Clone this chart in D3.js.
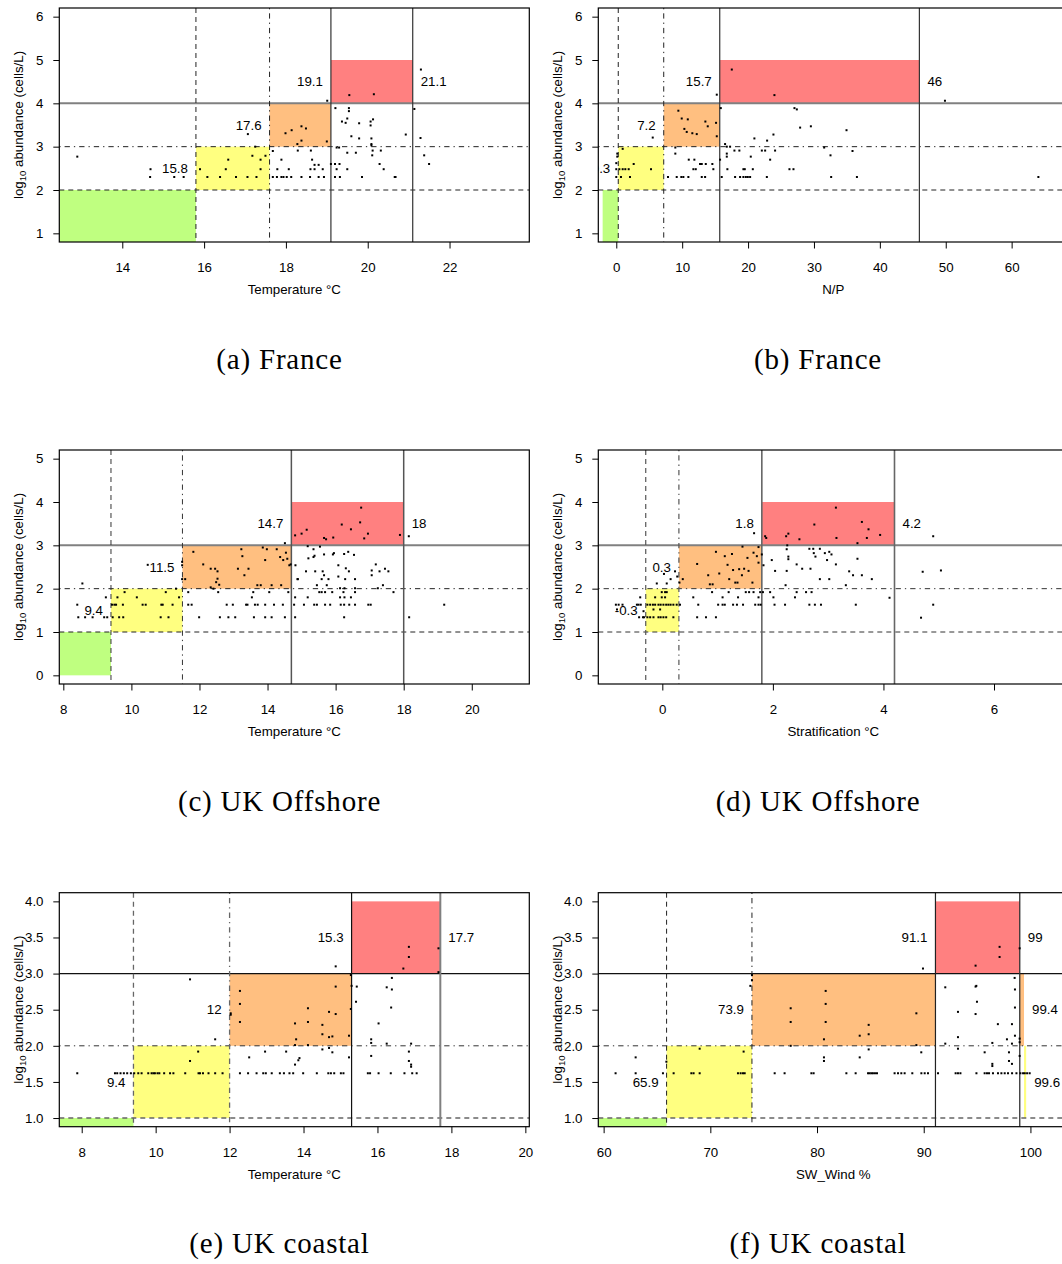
<!DOCTYPE html>
<html><head><meta charset="utf-8">
<script src="https://cdn.jsdelivr.net/npm/d3@7"></script>
<style>body{margin:0;background:#fff}svg{display:block}</style>
</head><body>
<svg id="chart" width="1062" height="1264"></svg>
<script>
// ---------------- DATA ----------------
const captions = ["(a) France","(b) France","(c) UK Offshore","(d) UK Offshore","(e) UK coastal","(f) UK coastal"];
const xTitles = ["Temperature °C","N/P","Temperature °C","Stratification °C","Temperature °C","SW_Wind %"];

const aXTicks=[14,16,18,20,22], aYTicks=[1,2,3,4,5,6];
const bXTicks=[0,10,20,30,40,50,60], bYTicks=[1,2,3,4,5,6];
const cXTicks=[8,10,12,14,16,18,20], cYTicks=[0,1,2,3,4,5];
const dXTicks=[0,2,4,6], dYTicks=[0,1,2,3,4,5];
const eXTicks=[8,10,12,14,16,18,20], eYTicks=[1,1.5,2,2.5,3,3.5,4];
const fXTicks=[60,70,80,90,100], fYTicks=[1,1.5,2,2.5,3,3.5,4];

// vertical thresholds (dashed, dot-dash, solid, solid), horizontal levels (dashed, dot-dash, solid)
const aCuts=[15.8,17.6,19.1,21.1], aLevels=[2,3,4];
const bCuts=[0.3,7.2,15.7,46], bLevels=[2,3,4];
const cCuts=[9.4,11.5,14.7,18], cLevels=[1,2,3];
const dCuts=[-0.3,0.3,1.8,4.2], dLevels=[1,2,3];
const eCuts=[9.4,12,15.3,17.7], eLevels=[1,2,3];
const fCuts=[65.9,73.9,91.1,99], fLevels=[1,2,3];

// bands: [x0, x1, y0, y1, level] level 0 green,1 yellow,2 orange,3 red
const aBands=[[12.46,15.8,0,2,0],[15.8,17.6,2,3,1],[17.6,19.1,3,4,2],[19.1,21.1,4,5,3]];
const bBands=[[-2.07,0.3,0,2,0],[0.3,7.2,2,3,1],[7.2,15.7,3,4,2],[15.7,46,4,5,3]];
const cBands=[[7.9,9.4,0,1,0],[9.4,11.5,1,2,1],[11.5,14.7,2,3,2],[14.7,18,3,4,3]];
const dBands=[[-0.3,0.3,1,2,1],[0.3,1.8,2,3,2],[1.8,4.2,3,4,3]];
const eBands=[[7.394,9.4,0,1,0],[9.4,12,1,2,1],[12,15.3,2,3,2],[15.3,17.7,3,4,3]];
const fBands=[[59.5,65.9,0,1,0],[65.9,73.9,1,2,1],[73.9,91.1,2,3,2],[91.1,99,3,4,3],[99,99.4,2,3,2],[99.4,99.6,1,2,1]];

// threshold labels: [text, x, y, side]
const aLabels=[["15.8",15.8,2.5,"L"],["17.6",17.6,3.5,"L"],["19.1",19.1,4.5,"L"],["21.1",21.1,4.5,"R"]];
const bLabels=[["0.3",0.3,2.5,"L"],["7.2",7.2,3.5,"L"],["15.7",15.7,4.5,"L"],["46",46,4.5,"R"]];
const cLabels=[["9.4",9.4,1.5,"L"],["11.5",11.5,2.5,"L"],["14.7",14.7,3.5,"L"],["18",18,3.5,"R"]];
const dLabels=[["-0.3",-0.3,1.5,"L"],["0.3",0.3,2.5,"L"],["1.8",1.8,3.5,"L"],["4.2",4.2,3.5,"R"]];
const eLabels=[["9.4",9.4,1.5,"L"],["12",12,2.5,"L"],["15.3",15.3,3.5,"L"],["17.7",17.7,3.5,"R"]];
const fLabels=[["65.9",65.9,1.5,"L"],["73.9",73.9,2.5,"L"],["91.1",91.1,3.5,"L"],["99",99,3.5,"R"],["99.4",99.4,2.5,"R"],["99.6",99.6,1.5,"R"]];

// observations [x, log10 abundance]
const aPts=[[12.9,2.77],[14.69,2.48],[14.68,2.3],[15.27,2.3],[15.5,2.3],[15.9,2.48],[16.08,2.3],[16.39,2.3],[16.53,2.48],[16.59,2.7],
[16.78,2.3],[17.06,2.3],[17.28,2.3],[17.38,2.48],[17.18,2.79],[17.38,2.7],[17.5,2.79],[17.25,3.0],[17.07,3.29],[17.68,2.9],
[17.89,2.7],[17.79,2.48],[18.07,2.48],[17.68,2.3],[17.78,2.3],[17.89,2.3],[17.94,2.3],[18.02,2.3],[18.13,2.3],[17.99,3.31],
[18.14,3.38],[18.28,3.06],[18.38,3.47],[18.49,3.42],[18.38,3.14],[18.29,2.91],[18.61,2.91],[18.64,2.7],[18.7,2.58],
[18.8,2.58],[18.6,2.48],[18.7,2.48],[18.9,2.48],[18.38,2.3],[18.59,2.3],[18.8,2.3],[18.93,2.3],[19.0,3.12],[19.01,4.06],
[19.1,2.6],[19.21,3.89],[19.54,3.89],[19.54,3.82],[19.37,3.58],[19.46,3.55],[19.5,3.65],[19.79,3.54],[20.07,3.58],[20.13,3.63],
[20.07,3.49],[19.6,3.24],[19.79,3.19],[20.09,3.19],[20.09,3.06],[20.09,3.03],[20.93,3.28],[19.24,2.98],[19.3,2.98],[20.12,2.91],
[20.32,2.91],[19.5,2.86],[19.71,2.86],[20.11,2.8],[19.2,2.6],[19.31,2.6],[20.29,2.6],[19.24,2.48],[19.5,2.48],[20.39,2.48],
[19.2,2.3],[19.32,2.3],[19.86,2.3],[20.66,2.3],[20.68,2.3],[19.55,4.19],[20.15,4.21],[21.3,4.78],[21.14,3.87],[21.29,3.2],
[21.38,2.8],[21.5,2.6]];

const bPts=[[0.15,2.84],[0.15,2.77],[0,2.62],[0,2.48],[0,2.3],[0.46,2.48],[0.97,2.48],[1.37,2.48],[1.88,2.48],[0.71,2.3],
[2.08,2.3],[0.97,2.95],[2.64,2.6],[5.27,2.48],[5.53,3.21],[8.96,2.98],[8.96,2.84],[7.85,2.3],[9.17,2.3],[9.87,2.3],
[10.18,2.3],[10.94,2.3],[9.42,3.83],[9.93,3.65],[10.85,3.63],[10.33,3.41],[10.69,3.34],[11.54,3.31],[12.21,3.29],[13.52,3.58],
[13.88,3.47],[15.14,3.55],[15.25,3.24],[15.25,4.2],[11.0,2.7],[11.85,2.7],[11.7,2.48],[12.06,2.48],[12.71,2.6],[12.97,2.6],
[13.58,2.6],[14.58,2.6],[12.97,2.3],[13.48,2.3],[14.73,2.48],[15.75,2.7],[15.86,3.89],[16.51,3.06],[16.77,3.0],[17.27,3.0],
[16.77,2.77],[16.77,2.84],[17.93,2.91],[18.68,2.91],[16.86,2.48],[16.0,2.3],[18.03,2.3],[18.79,2.3],[19.29,2.3],[19.66,2.3],
[19.96,2.3],[20.31,2.3],[19.29,2.48],[19.5,2.48],[20.72,2.48],[20.41,2.77],[20.96,3.19],[17.53,4.78],[24.0,4.19],[22.09,2.91],
[22.59,2.91],[22.89,3.14],[23.85,3.28],[24.1,2.91],[22.85,2.3],[23.35,2.7],[26.28,2.48],[26.89,2.48],[27.04,3.89],[27.4,3.86],
[27.9,3.44],[29.53,3.47],[31.55,2.98],[32.51,2.8],[32.61,2.3],[34.94,3.38],[35.85,2.9],[36.52,2.3],[49.88,4.06],[64.06,2.3]];

const cPts=[[8.56,2.12],[8.41,1.63],[8.44,1.34],[8.64,1.34],[8.86,1.34],[9.2,1.34],[9.29,1.34],[9.25,1.8],[9.43,1.63],[9.5,1.63],
[9.55,1.63],[9.59,1.8],[9.75,1.63],[9.8,1.92],[9.64,1.34],[9.76,1.34],[9.45,1.34],[10.16,1.8],[10.33,1.63],[10.42,1.63],
[11.01,1.92],[10.88,1.63],[10.92,1.63],[11.21,1.63],[10.86,1.34],[11.09,1.34],[11.4,1.8],[10.48,2.55],[11.31,2.0],[11.49,2.62],
[11.49,2.54],[11.49,2.22],[11.58,2.22],[11.67,1.92],[11.77,1.63],[11.67,1.63],[11.99,1.34],[11.82,2.85],[12.11,2.56],[12.33,2.46],
[12.46,2.46],[12.53,2.4],[12.49,2.15],[12.53,2.23],[12.58,2.09],[12.33,2.03],[12.41,2.0],[12.55,1.92],[12.6,1.34],[12.85,1.34],
[13.05,1.34],[12.8,1.63],[12.98,1.63],[13.13,2.46],[13.23,2.91],[13.26,2.75],[13.32,2.31],[13.44,2.46],[13.37,1.63],[13.41,1.63],
[13.54,1.8],[13.58,1.92],[13.6,1.34],[13.63,1.63],[13.71,1.63],[13.7,2.08],[13.8,2.08],[13.93,1.63],[13.93,1.34],[14.12,1.34],
[13.86,2.95],[13.98,2.91],[13.93,2.66],[14.05,1.92],[14.12,2.08],[14.19,1.63],[14.27,2.91],[14.37,2.73],[14.46,2.66],[14.54,2.83],
[14.51,3.05],[14.58,2.69],[14.64,2.54],[14.4,2.08],[14.45,1.63],[14.61,1.92],[14.51,1.34],[14.68,2.56],[14.81,3.23],[14.81,1.8],
[14.81,1.34],[14.89,2.22],[14.78,1.63],[15.0,3.27],[15.15,3.36],[15.66,3.17],[15.72,3.14],[15.93,3.18],[16.18,3.48],[16.45,3.37],
[16.72,3.53],[16.75,3.87],[16.95,3.27],[16.84,3.16],[17.89,3.24],[18.15,3.21],[15.18,2.98],[15.35,2.91],[15.54,2.97],[15.2,2.7],
[15.35,2.73],[15.38,2.76],[15.66,2.79],[15.92,2.79],[15.95,2.82],[16.25,2.8],[16.37,2.85],[16.54,2.78],[14.82,2.54],[16.08,2.54],
[16.3,2.47],[16.39,2.4],[15.13,2.4],[15.4,2.4],[15.62,2.4],[15.66,2.31],[14.88,2.22],[15.59,2.22],[15.79,2.22],[16.08,2.28],
[16.28,2.22],[16.57,2.22],[15.45,2.08],[15.74,2.08],[17.06,2.42],[17.06,2.31],[17.18,2.56],[17.29,2.4],[17.45,2.46],[17.55,2.4],
[17.24,2.01],[17.39,2.08],[17.7,1.92],[15.52,1.92],[15.59,1.92],[15.69,1.92],[15.9,1.92],[16.13,2.01],[16.26,2.01],[16.57,2.01],
[16.23,1.92],[16.57,1.92],[15.18,1.8],[16.13,1.8],[16.26,1.8],[16.45,1.8],[15.07,1.63],[15.37,1.63],[15.45,1.63],[15.69,1.63],
[15.84,1.63],[16.15,1.63],[16.25,1.63],[16.4,1.63],[16.57,1.63],[16.96,1.63],[17.03,1.63],[16.25,1.34],[18.16,1.34],[19.19,1.63]];

const dPts=[[-0.84,1.63],[-0.79,1.63],[-0.72,1.63],[-0.82,1.52],[-0.46,1.63],[-0.43,1.63],[-0.39,1.63],[-0.4,1.8],[-0.42,1.34],[-0.35,1.34],
[-0.33,1.34],[-0.34,1.48],[-0.27,1.63],[-0.22,1.63],[-0.17,1.63],[-0.13,1.63],[-0.07,1.63],[-0.03,1.63],[0.02,1.63],[0.07,1.63],
[0.11,1.63],[0.15,1.63],[0.2,1.63],[0.26,1.63],[-0.27,1.34],[-0.22,1.34],[-0.16,1.34],[-0.07,1.34],[-0.03,1.34],[0.02,1.34],
[0.07,1.34],[0.2,1.34],[-0.13,1.8],[-0.01,1.8],[0.05,1.8],[-0.01,1.92],[0.05,1.92],[0.08,1.92],[-0.16,1.52],[-0.04,1.52],
[0.08,2.12],[0.15,2.22],[-0.1,2.12],[0.03,2.34],[0.23,2.4],[0.27,2.28],[0.31,2.14],[0.32,1.63],[0.37,2.22],[0.63,2.57],
[0.83,2.31],[0.86,2.1],[0.91,2.1],[0.97,2.85],[1.03,2.35],[1.13,2.75],[1.18,2.55],[1.21,2.22],[1.26,2.8],[1.28,2.43],
[1.32,2.14],[1.36,2.14],[1.45,2.97],[1.39,2.45],[1.44,2.31],[1.48,2.46],[1.54,2.71],[1.56,2.41],[1.63,2.14],[1.65,2.83],
[1.71,2.75],[1.74,2.6],[1.74,2.96],[1.66,3.28],[0.56,1.8],[0.65,1.63],[0.79,1.34],[0.63,1.34],[0.97,1.34],[0.9,1.92],
[1.09,1.8],[1.01,1.63],[1.09,1.63],[1.13,1.63],[1.28,1.63],[1.35,1.63],[1.2,1.92],[1.37,1.8],[1.46,1.63],[1.51,1.92],
[1.57,1.92],[1.65,1.92],[1.68,1.63],[1.74,1.63],[1.78,1.63],[1.74,1.8],[1.77,1.92],[1.8,2.79],[1.83,2.54],[1.86,3.21],
[1.88,3.17],[1.98,2.66],[2.04,2.41],[2.24,3.21],[2.28,3.27],[2.26,3.0],[2.25,2.91],[2.28,2.74],[2.28,2.68],[2.25,2.41],
[2.23,2.08],[2.43,2.56],[2.48,3.14],[1.82,1.92],[1.95,1.92],[2.01,1.8],[2.03,1.63],[2.22,1.63],[2.4,1.8],[2.43,1.92],
[2.75,3.48],[3.14,3.87],[3.15,3.17],[3.53,3.05],[3.61,3.54],[3.73,3.37],[3.7,3.17],[3.94,3.24],[4.9,3.21],[2.66,2.92],
[2.73,2.92],[2.85,2.92],[2.74,2.82],[2.77,2.74],[2.94,2.82],[3.02,2.85],[3.06,2.79],[2.98,2.66],[3.14,2.56],[2.53,2.46],
[2.68,2.46],[2.85,2.22],[3.02,2.22],[3.38,2.4],[3.45,2.31],[3.61,2.31],[3.79,2.22],[3.53,2.69],[3.32,2.08],[2.6,1.92],
[2.7,1.92],[2.66,1.63],[2.76,1.63],[2.87,1.63],[3.5,1.63],[4.11,1.79],[4.71,2.39],[5.04,2.42],[4.9,1.63],[4.68,1.33]];

const ePts=[[7.88,1.62],[8.9,1.62],[8.96,1.62],[9.05,1.62],[9.14,1.62],[9.23,1.62],[9.33,1.62],[9.42,1.62],[9.53,1.62],[9.62,1.62],
[9.8,1.62],[9.89,1.62],[9.94,1.62],[9.98,1.62],[10.05,1.62],[10.1,1.62],[10.23,1.62],[10.39,1.62],[10.48,1.62],[10.8,1.62],
[11.16,1.62],[11.2,1.62],[11.28,1.62],[11.43,1.62],[11.61,1.62],[11.81,1.62],[10.93,1.79],[11.15,1.92],[11.61,2.09],[10.93,2.92],
[12.03,2.45],[12.03,2.43],[12.28,2.76],[12.28,2.58],[12.28,2.33],[12.53,1.84],[12.96,1.92],[13.53,1.92],[12.28,1.62],[12.5,1.62],
[12.73,1.62],[12.91,1.62],[12.98,1.62],[13.14,1.62],[13.36,1.62],[13.47,1.62],[13.62,1.62],[13.72,1.62],[13.77,2.31],[13.77,2.01],
[13.8,2.09],[13.77,1.74],[13.86,1.8],[14.12,2.52],[14.12,2.33],[14.51,2.29],[14.69,2.47],[14.87,2.44],[14.51,2.16],[14.69,2.12],
[14.78,2.13],[15.23,2.14],[14.87,2.82],[14.87,3.1],[14.12,2.01],[13.89,1.83],[14.51,1.95],[14.69,1.97],[14.78,1.91],[15.23,1.84],
[13.99,1.62],[14.36,1.62],[14.67,1.62],[14.74,1.62],[14.83,1.62],[15.01,1.62],[15.08,1.62],[15.28,2.98],[15.3,2.83],[15.44,2.82],
[15.28,2.51],[15.42,2.61],[15.83,2.09],[15.83,2.04],[16.25,2.03],[15.83,1.86],[16.03,2.31],[16.25,2.81],[16.39,2.94],[16.39,2.78],
[16.37,2.53],[16.7,3.07],[16.85,3.23],[16.85,3.37],[17.65,3.35],[17.65,3.02],[16.91,2.03],[16.85,1.92],[16.85,1.79],[16.91,1.74],
[16.91,1.71],[15.74,1.62],[15.8,1.62],[16.03,1.62],[16.36,1.62],[16.73,1.62],[16.94,1.62],[17.06,1.62]];

const fPts=[[61.12,1.62],[63.0,1.62],[65.56,1.62],[63.0,1.84],[65.88,1.78],[66.56,1.62],[68.22,1.62],[68.43,1.62],[69.0,1.62],[69.0,1.96],
[72.59,1.62],[72.84,1.62],[73.06,1.62],[73.22,1.62],[73.12,1.92],[73.9,2.98],[73.9,2.91],[73.75,2.83],[76.03,1.62],[76.96,1.62],
[77.53,2.52],[77.53,2.33],[77.53,2.0],[80.81,2.76],[80.81,2.58],[80.81,2.33],[80.65,2.09],[80.65,1.84],[80.65,1.79],[84.0,2.14],
[84.84,2.29],[84.84,2.16],[84.84,1.95],[84.0,1.84],[89.31,2.45],[89.31,2.01],[89.77,1.91],[89.93,3.07],[79.47,1.62],[79.68,1.62],
[82.75,1.62],[83.62,1.62],[84.78,1.62],[84.93,1.62],[85.09,1.62],[85.24,1.62],[85.43,1.62],[85.62,1.62],[87.27,1.62],[87.59,1.62],
[87.9,1.62],[88.21,1.62],[88.93,1.62],[89.78,1.62],[90.09,1.62],[90.4,1.62],[91.34,1.62],[92.99,1.62],[93.21,1.62],[93.44,1.62],
[94.94,1.62],[95.71,1.62],[95.93,1.62],[96.12,1.62],[96.49,1.62],[96.96,1.62],[97.28,1.62],[97.59,1.62],[97.9,1.62],[98.28,1.62],
[98.69,1.62],[99.06,1.62],[99.31,1.62],[99.47,1.62],[99.69,1.62],[99.93,1.62],[94.86,3.11],[97.11,3.37],[97.11,3.23],[98.99,3.35],
[92.02,2.81],[94.86,2.82],[94.93,2.83],[93.21,2.47],[94.99,2.61],[94.86,2.44],[96.95,2.3],[98.27,2.3],[98.52,2.94],[98.55,2.78],
[98.55,2.53],[93.21,2.12],[92.02,2.03],[93.21,1.96],[96.43,2.04],[97.8,2.09],[98.27,2.03],[98.55,2.14],[98.99,2.1],[98.99,2.05],
[95.71,1.91],[96.43,1.75],[96.43,1.72],[97.99,1.91],[97.99,1.79],[98.27,1.75],[98.99,1.86]];

// ---------------- LAYOUT / STYLE ----------------
const bandColors=["#bfff80","#ffff80","#ffbf80","#ff8080"];
const SANS="'Liberation Sans', Arial, Helvetica, sans-serif";
const SERIF="'Liberation Serif', 'Times New Roman', serif";
const FS=13.3;
const PW=470, PH=234;
const colL=59.3, colR=598.3;
const rowTops=[8,450,892.7];
const capX=[279.5,818];
const capY=[369,811,1253];
const DASH="5,4", DOTDASH="1.3,4,5.3,4";
const vDash=[DASH,DOTDASH,null,null], hDash=[DASH,DOTDASH,null];
const styA={vc:["#222","#222","#333","#333"],vw:[1,1,1.2,1.2],hc:["#222","#222","#808080"],hw:[1,1,2]};
const styC={vc:["#333","#333","#555","#555"],vw:[1,1,1.5,1.5],hc:["#222","#222","#808080"],hw:[1,1,2]};
const styD={vc:["#555","#555","#666","#666"],vw:[1.2,1.2,1.6,1.6],hc:["#333","#333","#808080"],hw:[1,1,2]};
const styE={vc:["#666","#666","#111","#808080"],vw:[1.3,1.3,1.2,2],hc:["#666","#333","#111"],hw:[1.5,1,1.2]};
const styF={vc:["#222","#222","#222","#333"],vw:[1,1,1.2,1.3],hc:["#666","#333","#111"],hw:[1.5,1,1.2]};

const panels=[
 {left:colL,top:rowTops[0],xDom:[12.46,23.95],yDom:[0.8,6.2],xT:aXTicks,yT:aYTicks,yF:d3.format("d"),cuts:aCuts,levels:aLevels,bands:aBands,labels:aLabels,pts:aPts,sty:styA,cap:0,col:0,row:0},
 {left:colR,top:rowTops[0],xDom:[-2.73,68.6],yDom:[0.8,6.2],xT:bXTicks,yT:bYTicks,yF:d3.format("d"),cuts:bCuts,levels:bLevels,bands:bBands,labels:bLabels,pts:bPts,sty:styA,cap:1,col:1,row:0},
 {left:colL,top:rowTops[1],xDom:[7.882,21.69],yDom:[-0.2,5.2],xT:cXTicks,yT:cYTicks,yF:d3.format("d"),cuts:cCuts,levels:cLevels,bands:cBands,labels:cLabels,pts:cPts,sty:styC,cap:2,col:0,row:1},
 {left:colR,top:rowTops[1],xDom:[-1.158,7.344],yDom:[-0.2,5.2],xT:dXTicks,yT:dYTicks,yF:d3.format("d"),cuts:dCuts,levels:dLevels,bands:dBands,labels:dLabels,pts:dPts,sty:styD,cap:3,col:1,row:1},
 {left:colL,top:rowTops[2],xDom:[7.394,20.107],yDom:[0.88,4.12],xT:eXTicks,yT:eYTicks,yF:d3.format(".1f"),cuts:eCuts,levels:eLevels,bands:eBands,labels:eLabels,pts:ePts,sty:styE,cap:4,col:0,row:2},
 {left:colR,top:rowTops[2],xDom:[59.5,103.55],yDom:[0.88,4.12],xT:fXTicks,yT:fYTicks,yF:d3.format(".1f"),cuts:fCuts,levels:fLevels,bands:fBands,labels:fLabels,pts:fPts,sty:styF,cap:5,col:1,row:2}
];

const svg=d3.select("#chart");
svg.append("rect").attr("width",1062).attr("height",1264).attr("fill","#fff");
const defs=svg.append("defs");

panels.forEach((p,i)=>{
  const x=d3.scaleLinear().domain(p.xDom).range([p.left,p.left+PW]);
  const y=d3.scaleLinear().domain(p.yDom).range([p.top+PH,p.top]);
  const cid="clip"+i;
  defs.append("clipPath").attr("id",cid).append("rect")
    .attr("x",p.left).attr("y",p.top).attr("width",PW).attr("height",PH);
  const g=svg.append("g");
  const inner=g.append("g").attr("clip-path",`url(#${cid})`);

  inner.selectAll("rect.band").data(p.bands).join("rect").attr("class","band")
    .attr("x",d=>x(d[0])).attr("width",d=>x(d[1])-x(d[0]))
    .attr("y",d=>y(d[3])).attr("height",d=>y(d[2])-y(d[3]))
    .attr("fill",d=>bandColors[d[4]]);

  inner.selectAll("line.h").data(p.levels).join("line").attr("class","h")
    .attr("x1",p.left).attr("x2",p.left+PW).attr("y1",d=>y(d)).attr("y2",d=>y(d))
    .attr("stroke",(d,k)=>p.sty.hc[k]).attr("stroke-width",(d,k)=>p.sty.hw[k])
    .attr("stroke-dasharray",(d,k)=>hDash[k]);

  inner.selectAll("line.v").data(p.cuts).join("line").attr("class","v")
    .attr("y1",p.top).attr("y2",p.top+PH).attr("x1",d=>x(d)).attr("x2",d=>x(d))
    .attr("stroke",(d,k)=>p.sty.vc[k]).attr("stroke-width",(d,k)=>p.sty.vw[k])
    .attr("stroke-dasharray",(d,k)=>vDash[k]);

  inner.selectAll("rect.pt").data(p.pts).join("rect").attr("class","pt")
    .attr("x",d=>x(d[0])-1).attr("y",d=>y(d[1])-1).attr("width",2).attr("height",2).attr("fill","#000");

  inner.selectAll("text.lab").data(p.labels).join("text").attr("class","lab")
    .attr("x",d=>d[3]==="L"?x(d[1])-8:x(d[1])+8).attr("y",d=>y(d[2]))
    .attr("dy","0.35em").attr("text-anchor",d=>d[3]==="L"?"end":"start")
    .attr("font-family",SANS).attr("font-size",FS).attr("fill","#000").text(d=>d[0]);

  // border
  g.append("rect").attr("x",p.left).attr("y",p.top).attr("width",PW).attr("height",PH)
    .attr("fill","none").attr("stroke","#000").attr("stroke-width",1.2);

  // axes
  const xa=g.append("g").attr("transform",`translate(0,${p.top+PH})`)
    .call(d3.axisBottom(x).tickValues(p.xT).tickSize(6.5).tickPadding(14.5).tickFormat(d3.format("d")));
  const ya=g.append("g").attr("transform",`translate(${p.left},0)`)
    .call(d3.axisLeft(y).tickValues(p.yT).tickSize(6).tickPadding(9.8).tickFormat(p.yF));
  [xa,ya].forEach(a=>{
    a.select(".domain").remove();
    a.selectAll("line").attr("stroke","#000").attr("stroke-width",1);
    a.selectAll("text").attr("font-family",SANS).attr("font-size",FS).attr("fill","#000");
  });

  // x title
  g.append("text").attr("x",p.left+PW/2).attr("y",p.top+PH+52).attr("text-anchor","middle")
    .attr("font-family",SANS).attr("font-size",FS).attr("fill","#000").text(xTitles[i]);

  // y title
  const yt=g.append("text").attr("transform",`translate(${p.left-36.8},${p.top+PH/2}) rotate(-90)`)
    .attr("text-anchor","middle").attr("font-family",SANS).attr("font-size",FS).attr("fill","#000");
  yt.append("tspan").text("log");
  yt.append("tspan").attr("font-size",FS*0.72).attr("dy",3).text("10");
  yt.append("tspan").attr("dy",-3).text(" abundance (cells/L)");

  // caption
  svg.append("text").attr("x",capX[p.col]).attr("y",capY[p.row]).attr("text-anchor","middle")
    .attr("font-family",SERIF).attr("font-size",29).attr("letter-spacing",0.8).attr("fill","#000")
    .text(captions[p.cap]);
});
</script>
</body></html>
